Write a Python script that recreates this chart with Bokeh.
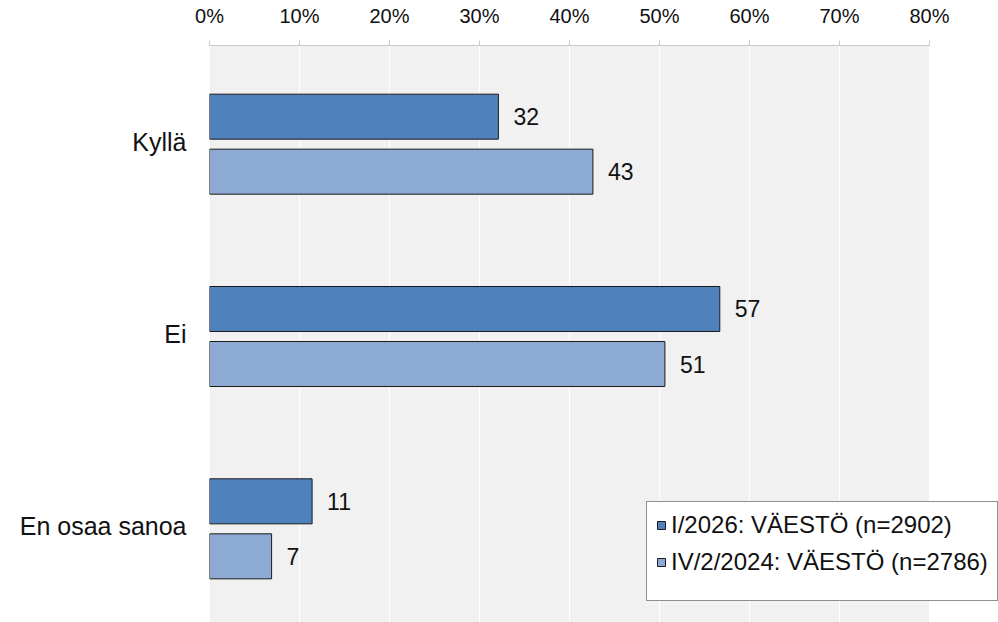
from bokeh.plotting import figure
from bokeh.models import (ColumnDataSource, FactorRange, Range1d, FixedTicker,
                          PrintfTickFormatter, Legend, LegendItem, LinearAxis,
                          BoxAnnotation)
from bokeh.transform import dodge
from bokeh.core.properties import value
from bokeh.embed import file_html
from bokeh.resources import INLINE

categories = ["Kyllä", "Ei", "En osaa sanoa"]
series_2026 = [32.1, 56.7, 11.4]
series_2024 = [42.6, 50.6, 6.9]
series_names = ["I/2026: VÄESTÖ (n=2902)", "IV/2/2024: VÄESTÖ (n=2786)"]
x_ticks = [0, 10, 20, 30, 40, 50, 60, 70, 80]

FONT = "Liberation Sans"
DARK = "#4F81BD"
LIGHT = "#8CAAD4"

W, H = 998, 622
FRAME_LEFT, FRAME_TOP = 209, 45
AXIS_RIGHT_PX = 929  # where the last tick sits
x_max = x_ticks[-1]
x_end = x_max * (W - FRAME_LEFT) / (AXIS_RIGHT_PX - FRAME_LEFT)

src = ColumnDataSource(dict(
    cat=categories,
    a=series_2026,
    b=series_2024,
    la=[str(int(round(v))) for v in series_2026],
    lb=[str(int(round(v))) for v in series_2024],
))

p = figure(width=W, height=H, output_backend="svg", toolbar_location=None,
           y_range=FactorRange(factors=list(reversed(categories))),
           x_range=Range1d(0, x_end), x_axis_location=None,
           min_border_left=FRAME_LEFT, min_border_right=0, min_border_top=FRAME_TOP,
           min_border_bottom=0)
p.background_fill_color = "white"
p.border_fill_color = "white"
p.outline_line_color = None

# grey plotting area only up to the last tick
bg = BoxAnnotation(left=0, right=x_max, fill_color="#F1F1F1", fill_alpha=1,
                   line_color=None, level="image")
p.add_layout(bg)

ax = LinearAxis(ticker=FixedTicker(ticks=x_ticks),
                formatter=PrintfTickFormatter(format="%d%%"),
                bounds=(0, x_max))
ax.axis_line_color = "#C8C8C8"
ax.major_tick_line_color = "#C8C8C8"
ax.major_tick_out = 5
ax.major_tick_in = 0
ax.minor_tick_line_color = None
ax.major_label_text_font = FONT
ax.major_label_text_font_size = "20px"
ax.major_label_text_color = "#111111"
ax.major_label_standoff = 14
p.add_layout(ax, "above")

p.xgrid.ticker = FixedTicker(ticks=x_ticks)
p.xgrid.grid_line_color = "white"
p.xgrid.grid_line_width = 1
p.ygrid.grid_line_color = None

p.yaxis.axis_line_color = None
p.yaxis.major_tick_line_color = None
p.yaxis.minor_tick_line_color = None
p.yaxis.major_label_text_font = FONT
p.yaxis.major_label_text_font_size = "25px"
p.yaxis.major_label_text_color = "#111111"
p.yaxis.major_label_standoff = 17

off_a = 0.130
off_b = -0.156
h = 0.234
ra = p.hbar(y=dodge("cat", off_a, range=p.y_range), right="a", left=0, height=h,
            source=src, fill_color=DARK, line_color="#1a1a1a", line_width=1)
rb = p.hbar(y=dodge("cat", off_b, range=p.y_range), right="b", left=0, height=h,
            source=src, fill_color=LIGHT, line_color="#1a1a1a", line_width=1)

for col, lab, d in (("a", "la", off_a), ("b", "lb", off_b)):
    p.text(x=col, y=dodge("cat", d, range=p.y_range), text=lab, source=src,
           x_offset=15, text_align="left", text_baseline="middle",
           text_font=value(FONT), text_font_size="23px", text_color="#111111")

legend = Legend(items=[LegendItem(label=series_names[0], renderers=[ra]),
                       LegendItem(label=series_names[1], renderers=[rb])],
                location=(646 - FRAME_LEFT, H - 601))
legend.label_text_font = FONT
legend.label_text_font_size = "24px"
legend.label_text_color = "#111111"
legend.glyph_width = 10
legend.glyph_height = 10
legend.label_standoff = 5
legend.padding = 9
legend.spacing = 9
legend.margin = 0
legend.title = " "
legend.title_location = "below"
legend.title_text_font_size = "10px"
legend.title_standoff = 4
legend.border_line_color = "#222222"
legend.border_line_width = 1
legend.background_fill_color = "white"
legend.background_fill_alpha = 1
p.add_layout(legend, "center")

open("out.html", "w").write(file_html(p, INLINE))
